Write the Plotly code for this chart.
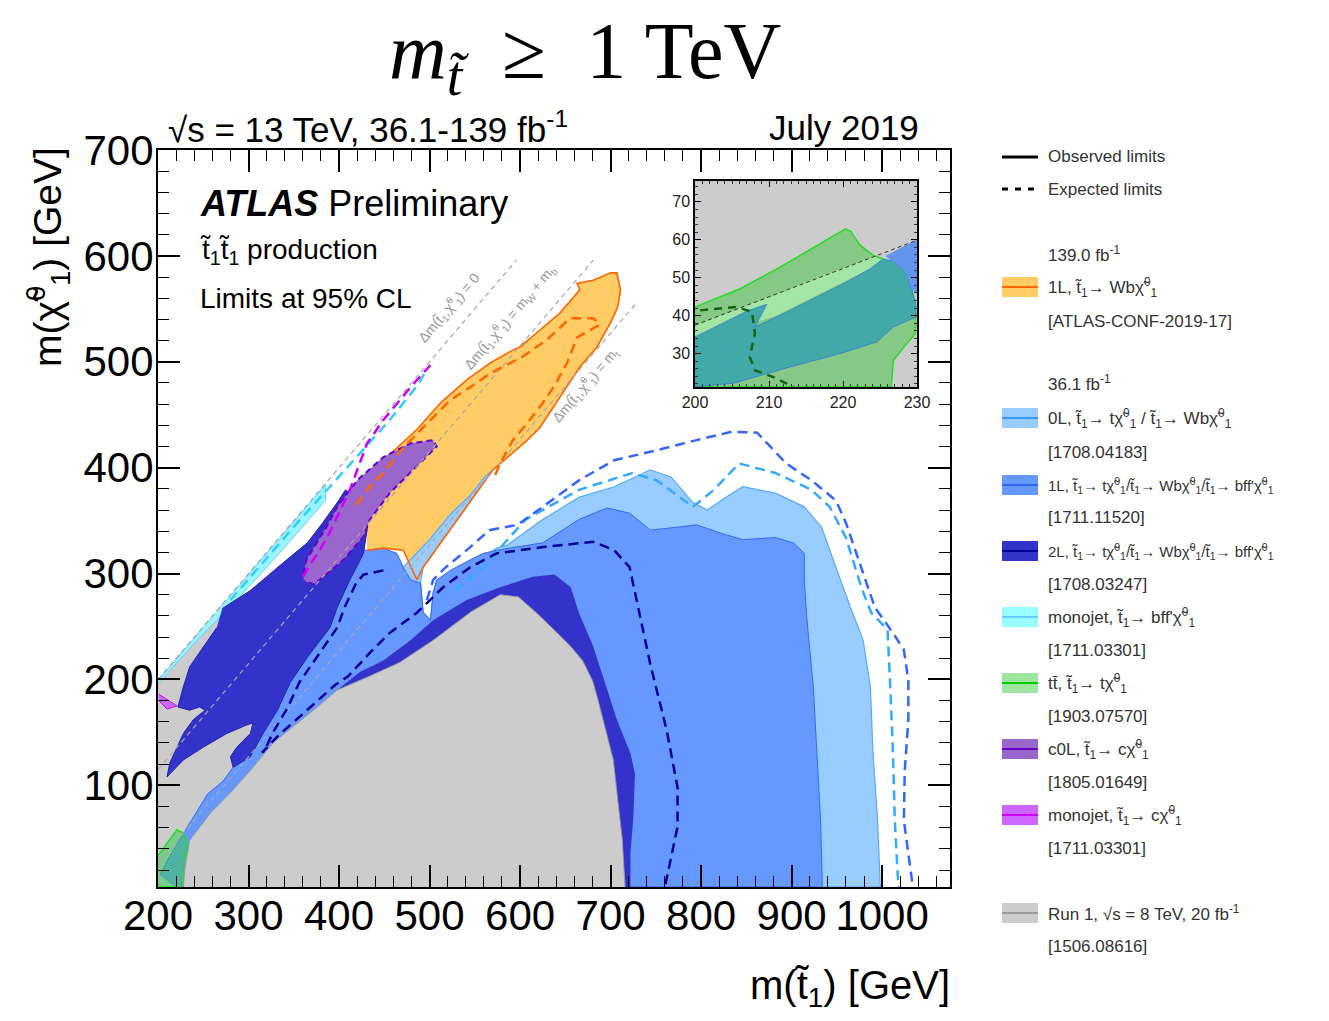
import plotly.graph_objects as go

# ------------------------------------------------------------------
# Data (GeV): m(stop) vs m(neutralino) exclusion contours
# ------------------------------------------------------------------
# Run 1 (8 TeV) exclusion - compressed corridor part
run1_corr_mstop = [200, 200, 271, 300, 340, 350, 340, 300, 260]
run1_corr_mlsp = [4, 200, 269, 250, 200, 160, 120, 60, 4]
# Run 1 (8 TeV) exclusion - main dome
run1_dome_mstop = [228, 230, 235, 258, 280, 302, 327, 349, 376, 398, 431, 467, 504, 546, 578,
                   598, 618, 641, 655, 669, 680, 686, 695, 703, 708, 713, 716]
run1_dome_mlsp = [4, 23, 48, 74, 93, 114, 140, 155, 174, 190, 202, 216, 237, 264, 280,
                  278, 263, 244, 232, 218, 199, 181, 152, 124, 86, 48, 4]

# 1L 139 fb-1 (observed region)
orange_mstop = [431, 449, 471, 486, 493, 515, 541, 570, 592, 608, 622, 637, 652, 666, 685, 700,
                708, 711, 707, 700, 681, 663, 666, 659, 644, 622, 600, 592, 567, 541, 512, 486,
                453, 434, 423, 431]
orange_mlsp = [322, 324, 322, 294, 306, 332, 363, 398, 414, 426, 438, 457, 476, 495, 514, 537,
               552, 568, 584, 584, 577, 574, 568, 561, 546, 530, 514, 511, 499, 483, 461, 436,
               410, 388, 360, 341]
orange_exp_mstop = [419, 434, 449, 471, 493, 523, 545, 567, 603, 630, 655, 681, 688, 663, 652,
                    637, 625, 608, 592, 578, 570]
orange_exp_mlsp = [365, 382, 395, 419, 438, 464, 476, 489, 505, 521, 541, 541, 535, 523, 499,
                   476, 461, 442, 426, 404, 388]

# 0L 36.1 fb-1
zeroL_mstop = [471, 500, 522, 545, 562, 570, 541, 515, 493, 490, 493, 501, 504, 508, 534, 558,
               574, 586, 625, 665, 704, 744, 767, 791, 807, 822, 846, 882, 914, 933, 949, 965,
               979, 987, 990, 995, 998, 688, 523, 467]
zeroL_mlsp = [306, 332, 355, 374, 392, 398, 363, 332, 306, 292, 263, 256, 282, 294, 299, 313,
              324, 327, 351, 372, 382, 398, 391, 367, 360, 369, 382, 376, 363, 344, 306, 268,
              237, 193, 130, 67, 4, 4, 228, 275]
zeroL_exp_mstop = [528, 556, 606, 665, 724, 751, 791, 814, 842, 882, 922, 942, 960, 977, 988,
                   1006, 1009, 1012, 1014, 1018]
zeroL_exp_mlsp = [284, 303, 351, 379, 395, 388, 363, 379, 404, 395, 379, 363, 334, 287, 263,
                  247, 193, 130, 67, 4]

# 1L 36.1 fb-1
oneL_mstop = [202, 213, 232, 246, 255, 272, 282, 300, 320, 345, 375, 405, 425, 431, 449, 464,
              471, 479, 490, 493, 501, 504, 508, 523, 545, 559, 574, 597, 625, 665, 696, 721,
              744, 776, 795, 822, 846, 882, 902, 914, 914, 917, 924, 928, 932, 934, 246, 219]
oneL_mlsp = [15, 33, 60, 79, 92, 104, 116, 140, 180, 220, 260, 300, 322, 322, 324, 319,
             306, 294, 291, 263, 256, 282, 294, 303, 313, 319, 322, 325, 329, 351, 362, 357,
             341, 344, 346, 338, 332, 334, 329, 319, 294, 256, 193, 130, 67, 4, 4, 4]
oneL_exp_mstop = [497, 504, 518, 545, 566, 597, 625, 665, 704, 744, 795, 834, 862, 877, 894,
                  922, 949, 960, 977, 992, 1012, 1024, 1029, 1029, 1025, 1024, 1034]
oneL_exp_mlsp = [275, 294, 306, 325, 341, 346, 363, 388, 407, 415, 426, 434, 433, 419, 404,
                 388, 369, 348, 306, 268, 244, 228, 199, 162, 114, 67, 4]

# 2L 36.1 fb-1 (two-body band and three/four-body lobe)
twoL_band_mstop = [398, 423, 449, 479, 504, 541, 578, 614, 638, 656, 665, 681, 693, 707, 722,
                   727, 725, 722, 722, 700, 600, 450, 398]
twoL_band_mlsp = [190, 207, 218, 237, 256, 275, 287, 297, 299, 287, 263, 231, 199, 162, 130,
                  111, 67, 36, 4, 4, 200, 200, 185]
twoL_lobe_mstop = [271, 302, 338, 365, 382, 398, 407, 432, 431, 427, 412, 398, 390, 365, 346,
                   332, 316, 302, 283, 280, 287, 302, 305, 298, 276, 250, 228, 210, 213, 221,
                   228, 239, 252, 246, 235, 222, 228, 235, 250, 265]
twoL_lobe_mlsp = [267, 284, 310, 329, 348, 367, 379, 365, 341, 319, 294, 268, 249, 221, 197,
                  171, 149, 127, 117, 127, 136, 149, 159, 157, 149, 136, 124, 108, 121, 136,
                  149, 162, 171, 174, 171, 174, 193, 212, 231, 249]
twoL_exp_mstop = [449, 427, 419, 406, 398, 375, 356, 343, 327, 318, 315, 333, 354, 376, 396,
                  410, 434, 456, 486, 515, 545, 574, 625, 681, 704, 721, 728, 736, 744, 762,
                  774, 774, 766, 760]
twoL_exp_mlsp = [303, 299, 291, 268, 249, 221, 197, 173, 150, 133, 131, 147, 163, 180, 195,
                 203, 225, 244, 263, 287, 306, 319, 325, 330, 322, 306, 278, 247, 214, 152,
                 98, 61, 29, 4]

# monojet (b f f' chi) and monojet (c chi)
monojet_b_mstop = [200, 385, 385, 340, 300, 272, 240, 200]
monojet_b_mlsp = [199, 384, 369, 325, 287, 262, 234, 196]
monojet_b_exp_mstop = [280, 357, 412, 456, 487, 495]
monojet_b_exp_mlsp = [275, 351, 403, 445, 478, 490]
monojet_c_mstop = [201, 221, 210, 201]
monojet_c_mlsp = [186, 175, 172, 180]
monojet_c_exp_mstop = [360, 387, 412, 431, 449, 479, 501]
monojet_c_exp_mlsp = [297, 334, 379, 423, 445, 476, 497]

# c0L (stop -> c chi)
c0L_mstop = [361, 364, 386, 398, 420, 449, 479, 504, 508, 486, 456, 434, 427, 405, 383, 372, 361]
c0L_mlsp = [300, 313, 344, 363, 388, 410, 423, 426, 420, 401, 376, 351, 335, 313, 297, 290, 293]

# ttbar (stop -> t chi) in the top corridor
ttbar_mstop = [200, 202, 221, 228, 233, 228, 227, 224, 200]
ttbar_mlsp = [34, 36, 58, 55, 42, 27, 8, 4, 4]

# kinematic lines: delta m values and end points in m(stop)
kin_dm = [0, 85, 173]
kin_mstop_end = [596, 681, 730]
kin_labels = ["Δm(t̃<sub>1</sub>,χ̃<sup>0</sup><sub>1</sub>) = 0",
              "Δm(t̃<sub>1</sub>,χ̃<sup>0</sup><sub>1</sub>) = m<sub>W</sub> + m<sub>b</sub>",
              "Δm(t̃<sub>1</sub>,χ̃<sup>0</sup><sub>1</sub>) = m<sub>t</sub>"]
kin_label_mstop = [521, 589, 672]
kin_label_mlsp = [551, 542, 478]

# inset (zoom on 200-230 GeV)
inset_run1_mstop = [200, 230, 230, 200]
inset_run1_mlsp = [21.2, 21.2, 75.5, 75.5]
inset_green_mstop = [200, 206.1, 211.5, 216.5, 220.3, 221, 222.3, 224.1, 225.9, 228.2, 229.3,
                     229.8, 229.8, 228.2, 226.8, 226.5, 200]
inset_green_mlsp = [42.3, 47.1, 52.8, 58.6, 62.8, 62.3, 58.6, 55.9, 54.6, 52, 46.7, 43.2, 35.3,
                    31.7, 28.2, 21.2, 21.2]
inset_lgreen_mstop = [200, 210.6, 217.4, 224.1, 225.3, 223.7, 210.6, 200]
inset_lgreen_mlsp = [37.5, 45.4, 50.7, 55.5, 54.8, 52.4, 39.7, 33.5]
inset_teal_mstop = [200, 207, 209.7, 208.1, 211.5, 216, 220.5, 223.7, 225.3, 226.8, 228.6, 229.3,
                    229.8, 229.9, 226.8, 224.6, 219.6, 212.9, 205.2, 200]
inset_teal_mlsp = [34.4, 41.2, 43, 37, 40.1, 44.5, 48.9, 52.4, 54.8, 54.6, 51.1, 46.7, 43.2,
                   39.7, 37, 33.1, 30, 26.5, 22.2, 21.2]
inset_blue_mstop = [225.7, 230, 230, 229.3, 228.6, 227.3]
inset_blue_mlsp = [55.7, 60.1, 45.8, 46.7, 51.1, 53.7]
inset_line_mstop = [200, 230]
inset_line_mlsp = [37.5, 59.9]
inset_gexp_mstop = [200.7, 205.6, 207.7, 208.1, 207.4, 208.1, 210.6, 213.3]
inset_gexp_mlsp = [41.4, 42.3, 41, 35.3, 29.1, 25.6, 23.8, 21.2]

# legend rows: text, y (page px), swatch fill, swatch line, font size
legend_rows = [
    ("139.0 fb<sup>-1</sup>", 254, None, None, 17),
    ("1L, t̃<sub>1</sub>→ Wbχ̃<sup>0</sup><sub>1</sub>", 287, "#FFCC66", "#FF6600", 17),
    ("[ATLAS-CONF-2019-17]", 321, None, None, 17),
    ("36.1 fb<sup>-1</sup>", 383, None, None, 17),
    ("0L, t̃<sub>1</sub>→ tχ̃<sup>0</sup><sub>1</sub> / t̃<sub>1</sub>→ Wbχ̃<sup>0</sup><sub>1</sub>", 418, "#99CCFF", "#3399FF", 17),
    ("[1708.04183]", 452, None, None, 17),
    ("1L, t̃<sub>1</sub>→ tχ̃<sup>0</sup><sub>1</sub>/t̃<sub>1</sub>→ Wbχ̃<sup>0</sup><sub>1</sub>/t̃<sub>1</sub>→ bff'χ̃<sup>0</sup><sub>1</sub>", 485, "#6699FF", "#3366FF", 15),
    ("[1711.11520]", 518, None, None, 17),
    ("2L, t̃<sub>1</sub>→ tχ̃<sup>0</sup><sub>1</sub>/t̃<sub>1</sub>→ Wbχ̃<sup>0</sup><sub>1</sub>/t̃<sub>1</sub>→ bff'χ̃<sup>0</sup><sub>1</sub>", 551, "#3333CC", "#000099", 15),
    ("[1708.03247]", 584, None, None, 17),
    ("monojet, t̃<sub>1</sub>→ bff'χ̃<sup>0</sup><sub>1</sub>", 617, "#99FFFF", "#66CCFF", 17),
    ("[1711.03301]", 650, None, None, 17),
    ("tt̄, t̃<sub>1</sub>→ tχ̃<sup>0</sup><sub>1</sub>", 683, "#A0E6A0", "#00CC00", 17),
    ("[1903.07570]", 716, None, None, 17),
    ("c0L, t̃<sub>1</sub>→ cχ̃<sup>0</sup><sub>1</sub>", 749, "#9966CC", "#6600CC", 17),
    ("[1805.01649]", 782, None, None, 17),
    ("monojet, t̃<sub>1</sub>→ cχ̃<sup>0</sup><sub>1</sub>", 815, "#CC66FF", "#CC00FF", 17),
    ("[1711.03301]", 848, None, None, 17),
    ("Run 1, √s = 8 TeV, 20 fb<sup>-1</sup>", 913, "#CCCCCC", "#999999", 17),
    ("[1506.08616]", 946, None, None, 17),
]

# ------------------------------------------------------------------
# page layout (the page body adds an 8 px margin around the figure)
OFF = 8
W, H = 1329 - 2 * OFF, 1021 - 2 * OFF
PL, PR, PT, PB = 158, 950, 150, 887   # plot area, page pixels
FONT = "Liberation Sans, Arial, Helvetica, sans-serif"


def px_x(p):
    return (p - PL) / (PR - PL)


def px_y(p):
    return (PB - p) / (PB - PT)


fig = go.Figure()


def poly(x, y, fill, lc=None, lw=0, dash=None, ax=("x", "y")):
    fig.add_trace(go.Scatter(x=x, y=y, mode="lines", fill="toself", fillcolor=fill,
                             line=dict(color=lc or fill, width=lw, dash=dash),
                             hoverinfo="skip", showlegend=False, xaxis=ax[0], yaxis=ax[1]))


def curve(x, y, color, lw=2.5, dash="10px,6px", ax=("x", "y")):
    fig.add_trace(go.Scatter(x=x, y=y, mode="lines", line=dict(color=color, width=lw, dash=dash),
                             hoverinfo="skip", showlegend=False, xaxis=ax[0], yaxis=ax[1]))


# fills, back to front
poly(run1_corr_mstop, run1_corr_mlsp, "#CCCCCC")
poly(orange_mstop, orange_mlsp, "#FFCC66")
poly(zeroL_mstop, zeroL_mlsp, "#99CCFF", "#55AAFF", 1.2)
poly(oneL_mstop, oneL_mlsp, "#6699FF", "#3366FF", 1)
poly(monojet_b_mstop, monojet_b_mlsp, "#99F5FF", "#66CCFF", 1)
poly(twoL_band_mstop, twoL_band_mlsp, "#3333CC")
poly(twoL_lobe_mstop, twoL_lobe_mlsp, "#3333CC", "#2222AA", 1)
curve(orange_mstop, orange_mlsp, "#FF6600", 1.6, "solid")
poly(c0L_mstop, c0L_mlsp, "#9966CC", "#6600CC", 2, "6px,4px")
poly(monojet_c_mstop, monojet_c_mlsp, "#CC66FF", "#CC00FF", 1)
poly(ttbar_mstop, ttbar_mlsp, "rgba(60,200,90,0.55)", "#22DD22", 1.6)
poly(run1_dome_mstop, run1_dome_mlsp, "#CCCCCC", "#999999", 1)

# kinematic lines
for dm, xe in zip(kin_dm, kin_mstop_end):
    curve([200, xe], [200 - dm, xe - dm], "#A8A8A8", 1.2, "5px,4px")

# expected limits
curve(zeroL_exp_mstop, zeroL_exp_mlsp, "#33AAFF", 2.5)
curve(oneL_exp_mstop, oneL_exp_mlsp, "#3366FF", 2.5)
curve(twoL_exp_mstop, twoL_exp_mlsp, "#000099", 2.5)
curve(orange_exp_mstop, orange_exp_mlsp, "#FF6600", 2.5)
curve(monojet_b_exp_mstop, monojet_b_exp_mlsp, "#33CCFF", 2.5)
curve(monojet_c_exp_mstop, monojet_c_exp_mlsp, "#CC00FF", 2.5)

# inset
ins = ("x2", "y2")
poly(inset_run1_mstop, inset_run1_mlsp, "#CCCCCC", ax=ins)
poly(inset_green_mstop, inset_green_mlsp, "#86C986", "#22DD22", 1.5, ax=ins)
poly(inset_lgreen_mstop, inset_lgreen_mlsp, "#A3E6A3", ax=ins)
poly(inset_teal_mstop, inset_teal_mlsp, "#42A8A8", "#3377DD", 0.8, ax=ins)
poly(inset_blue_mstop, inset_blue_mlsp, "#6495ED", ax=ins)
curve(inset_line_mstop, inset_line_mlsp, "#333333", 1, "4px,3px", ax=ins)
curve(inset_gexp_mstop, inset_gexp_mlsp, "#116611", 2.5, "8px,6px", ax=ins)

axis_common = dict(showgrid=False, zeroline=False, showline=True, linecolor="black",
                   mirror="ticks", ticks="inside", tickcolor="black")

fig.update_layout(
    width=W, height=H,
    margin=dict(l=PL - OFF, r=W - (PR - OFF), t=PT - OFF, b=H - (PB - OFF), pad=0),
    paper_bgcolor="white", plot_bgcolor="white",
    showlegend=False,
    xaxis=dict(range=[200, 1075], tick0=200, dtick=100, ticklen=22, tickwidth=1.6, linewidth=2,
               tickfont=dict(family=FONT, size=42, color="black"), ticklabelstandoff=-9,
               minor=dict(dtick=20, tick0=200, ticklen=11, ticks="inside", tickcolor="black", tickwidth=1.4),
               **axis_common),
    yaxis=dict(range=[4, 700], tick0=0, dtick=100, ticklen=22, tickwidth=1.6, linewidth=2,
               tickfont=dict(family=FONT, size=42, color="black"), ticklabelstandoff=-6,
               minor=dict(dtick=20, tick0=0, ticklen=11, ticks="inside", tickcolor="black", tickwidth=1.4),
               **axis_common),
    xaxis2=dict(domain=[px_x(695), px_x(917)], anchor="y2", range=[200, 230], tick0=200, dtick=10,
                ticklen=6, tickwidth=1, linewidth=1.5,
                tickfont=dict(family=FONT, size=16, color="#222"),
                minor=dict(dtick=1, ticklen=3, ticks="inside", tickcolor="#333"),
                **axis_common),
    yaxis2=dict(domain=[px_y(387), px_y(181)], anchor="x2", range=[21.2, 75.5], tick0=0, dtick=10,
                ticklen=6, tickwidth=1, linewidth=1.5,
                tickfont=dict(family=FONT, size=16, color="#222"),
                minor=dict(dtick=2, ticklen=3, ticks="inside", tickcolor="#333"),
                **axis_common),
)

ann = []


def text(s, x, y, size, xanchor="left", yanchor="middle", family=FONT, color="black", angle=0):
    ann.append(dict(text=s, x=px_x(x), y=px_y(y), xref="paper", yref="paper", showarrow=False,
                    xanchor=xanchor, yanchor=yanchor, textangle=angle,
                    font=dict(family=family, size=size, color=color)))


# title
text("<i>m</i><sub><i>t̃</i></sub>&nbsp; ≥ &nbsp;1 TeV", 585, 57, 80, "center",
     family="Liberation Serif, DejaVu Serif, serif")
text("√s = 13 TeV, 36.1-139 fb<sup>-1</sup>", 166, 127, 35)
text("July 2019", 921, 127, 35, "right")
text("<b><i>ATLAS</i></b> Preliminary", 198, 203, 36)
text("t̃<sub>1</sub>t̃<sub>1</sub> production", 198, 251, 28)
text("Limits at 95% CL", 198, 298, 28)
text("m(χ̃<sup>0</sup><sub>1</sub>) [GeV]", 48, 257, 39, "center", angle=-90)
text("m(t̃<sub>1</sub>) [GeV]", 952, 988, 40, "right")

# kinematic labels (data coords)
for s, xm, ym in zip(kin_labels, kin_label_mstop, kin_label_mlsp):
    ann.append(dict(text=s, x=xm, y=ym, xref="x", yref="y", showarrow=False, textangle=-49.5,
                    font=dict(family=FONT, size=14, color="#9A9A9A")))

# legend
shapes = []
shapes.append(dict(type="line", xref="paper", yref="paper", x0=px_x(1002), x1=px_x(1038),
                   y0=px_y(157), y1=px_y(157), line=dict(color="black", width=3)))
shapes.append(dict(type="line", xref="paper", yref="paper", x0=px_x(1002), x1=px_x(1038),
                   y0=px_y(189), y1=px_y(189), line=dict(color="black", width=3, dash="6px,7px")))
text("Observed limits", 1046, 157, 17, color="#333")
text("Expected limits", 1046, 189, 17, color="#333")
for s, y, fc, lc, fs in legend_rows:
    if fc is not None:
        shapes.append(dict(type="rect", xref="paper", yref="paper", x0=px_x(1002), x1=px_x(1038),
                           y0=px_y(y + 10), y1=px_y(y - 10), fillcolor=fc, line=dict(width=0)))
        shapes.append(dict(type="line", xref="paper", yref="paper", x0=px_x(1002), x1=px_x(1038),
                           y0=px_y(y), y1=px_y(y), line=dict(color=lc, width=2)))
    text(s, 1046, y, fs, color="#333")

fig.update_layout(annotations=ann, shapes=shapes)
fig.write_html("out.html")
